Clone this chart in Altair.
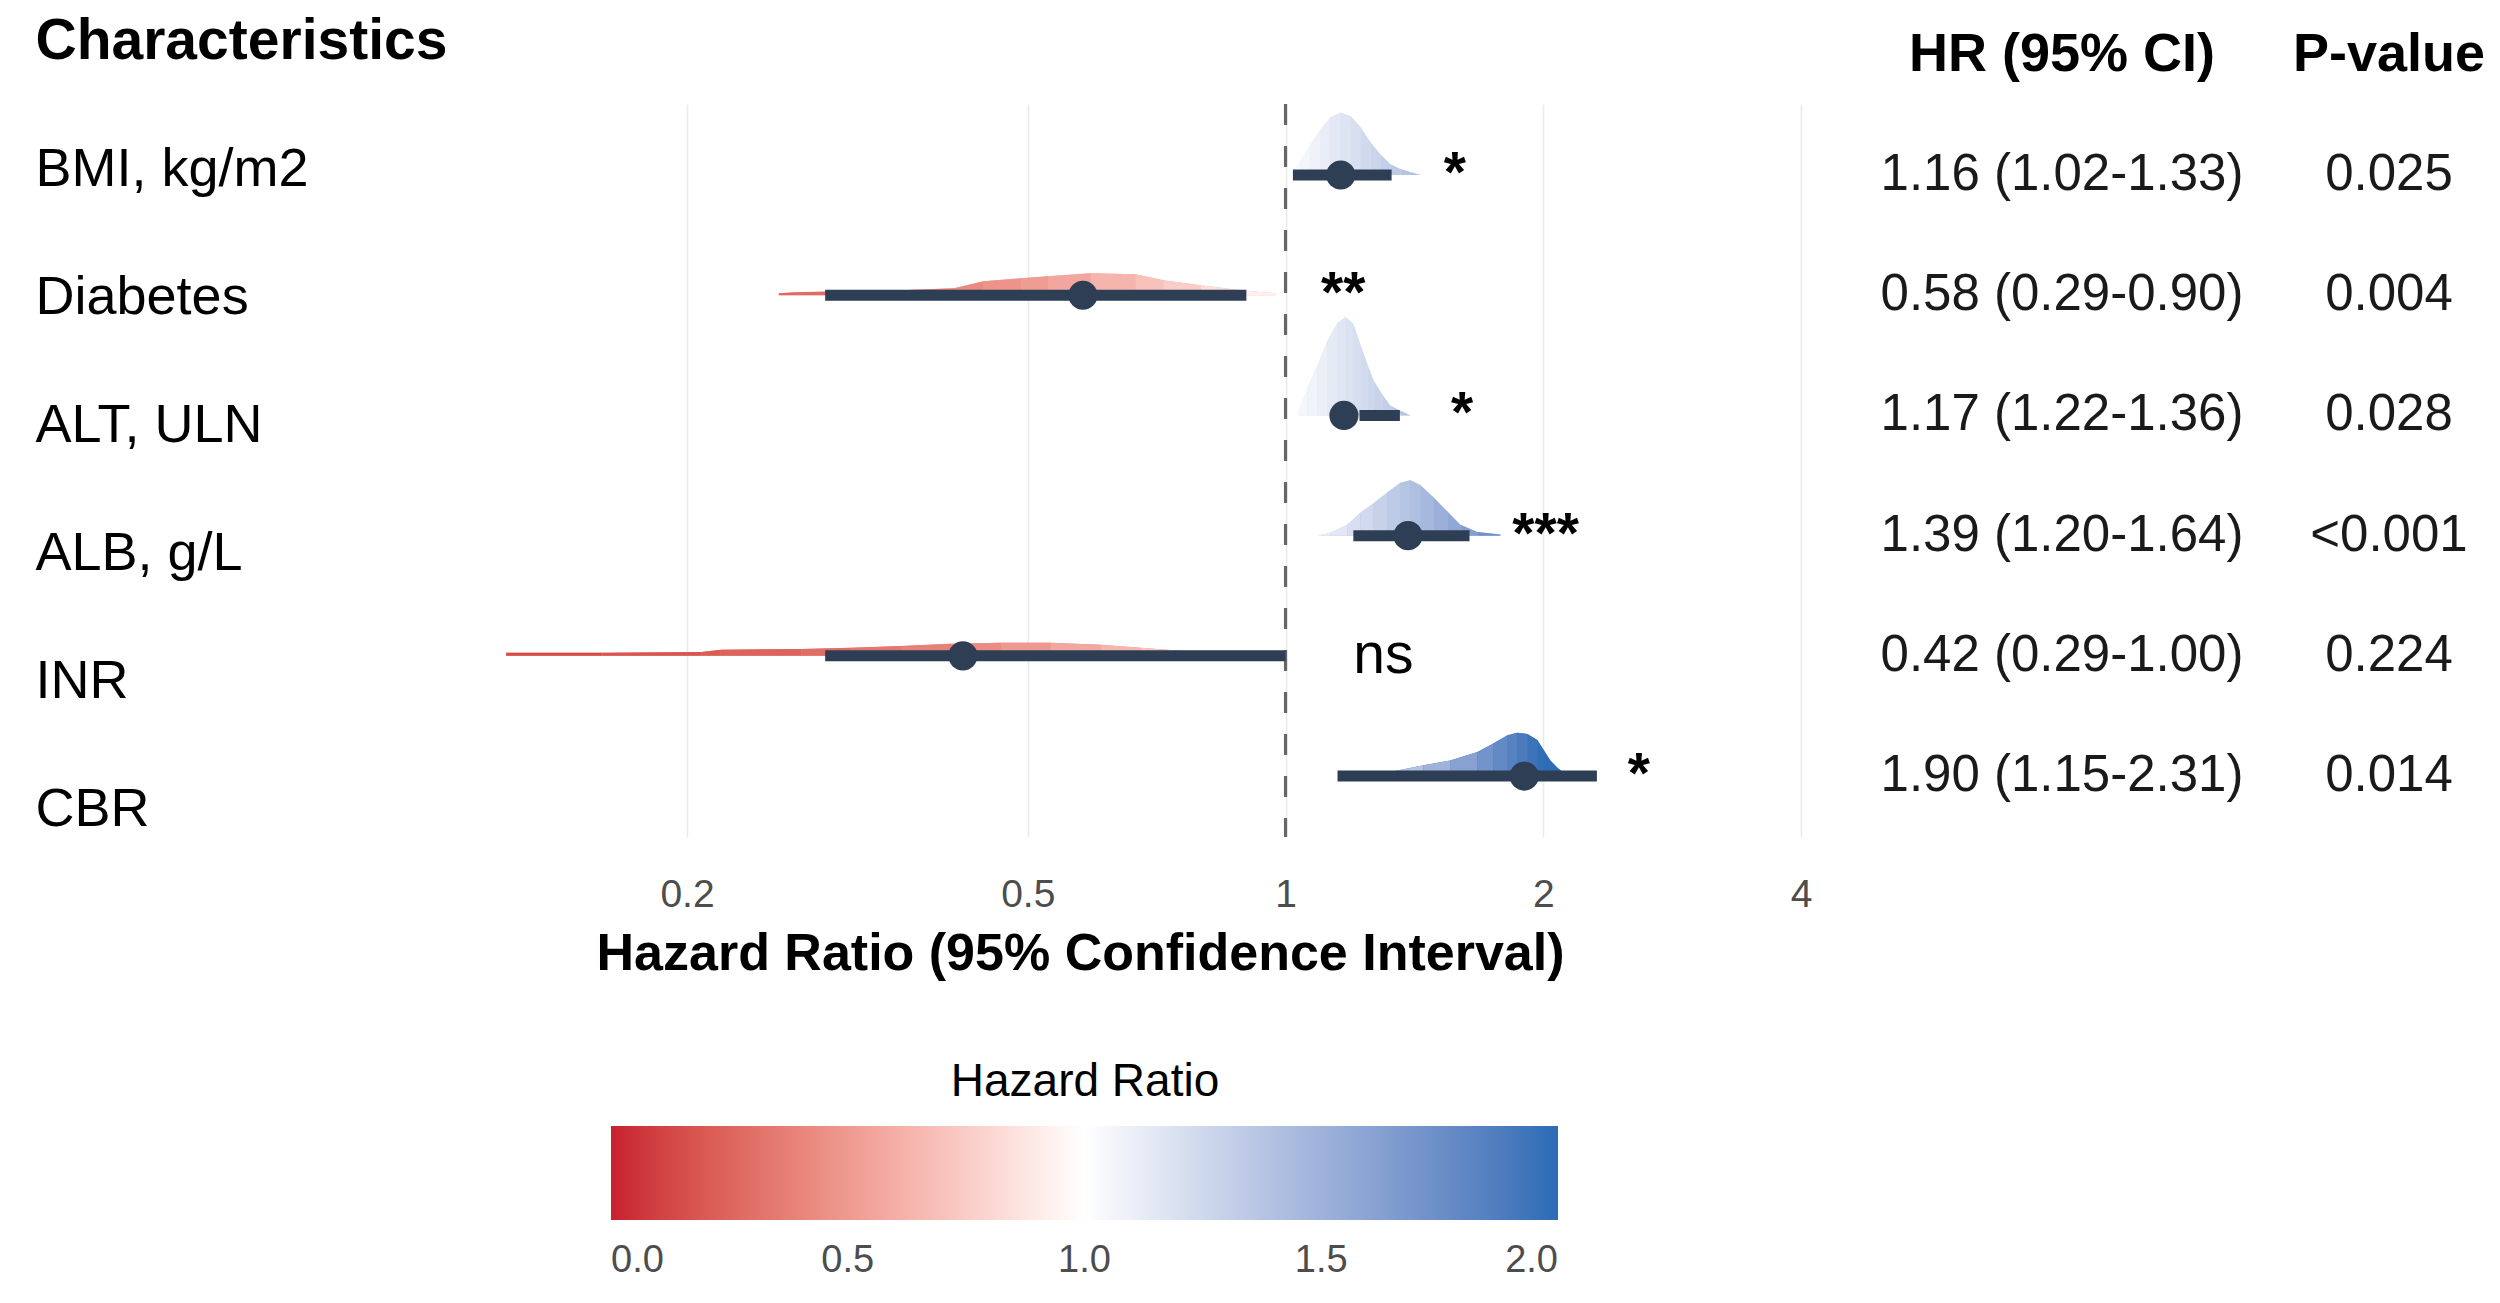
import altair as alt
import pandas as pd

FONT = "Liberation Sans"
DARK = "#2D3E55"

# ---------------- data ----------------
characteristics = ["BMI, kg/m2", "Diabetes", "ALT, ULN", "ALB, g/L", "INR", "CBR"]
hr = [1.16, 0.58, 1.17, 1.39, 0.42, 1.90]
ci_low = [1.02, 0.29, 1.22, 1.20, 0.29, 1.15]
ci_high = [1.33, 0.90, 1.36, 1.64, 1.00, 2.31]
hr_text = ["1.16 (1.02-1.33)", "0.58 (0.29-0.90)", "1.17 (1.22-1.36)",
           "1.39 (1.20-1.64)", "0.42 (0.29-1.00)", "1.90 (1.15-2.31)"]
p_text = ["0.025", "0.004", "0.028", "<0.001", "0.224", "0.014"]
signif = ["*", "**", "*", "***", "ns", "*"]
header_label = "Characteristics"
table_headers = ["HR (95% CI)", "P-value"]
ref_hr = [1.0]
x_ticks = [0.2, 0.5, 1, 2, 4]
legend_ticks = [0.0, 0.5, 1.0, 1.5, 2.0]

# density slabs: HR grid and slab height (in row units)
bmi_hr = [1.022, 1.041, 1.069, 1.099, 1.128, 1.159, 1.191, 1.223, 1.257, 1.291, 1.326, 1.362, 1.399, 1.437]
bmi_h = [0.04, 0.12, 0.25, 0.38, 0.48, 0.52, 0.49, 0.40, 0.27, 0.17, 0.09, 0.05, 0.025, 0.0]

dia_hr = [0.256, 0.268, 0.302, 0.356, 0.410, 0.444, 0.491, 0.528, 0.592, 0.668, 0.720, 0.796, 0.886, 0.973]
dia_h = [0.017, 0.025, 0.033, 0.042, 0.058, 0.116, 0.141, 0.158, 0.183, 0.175, 0.125, 0.083, 0.042, 0.017]

alt_hr = [1.036, 1.061, 1.090, 1.119, 1.150, 1.175, 1.200, 1.223, 1.247, 1.267, 1.298, 1.326, 1.362, 1.400]
alt_h = [0.04, 0.23, 0.42, 0.62, 0.77, 0.82, 0.76, 0.59, 0.42, 0.29, 0.17, 0.08, 0.04, 0.0]

alb_hr = [1.090, 1.128, 1.181, 1.223, 1.267, 1.315, 1.362, 1.399, 1.437, 1.488, 1.545, 1.600, 1.675, 1.782]
alb_h = [0.0, 0.025, 0.09, 0.19, 0.27, 0.36, 0.44, 0.46, 0.42, 0.32, 0.20, 0.09, 0.03, 0.01]

inr_hr = [0.123, 0.159, 0.208, 0.219, 0.272, 0.311, 0.356, 0.407, 0.465, 0.532, 0.608, 0.677, 0.754, 0.863, 0.987]
inr_h = [0.025, 0.025, 0.033, 0.05, 0.058, 0.067, 0.083, 0.10, 0.108, 0.108, 0.092, 0.067, 0.042, 0.025, 0.008]

cbr_hr = [1.25, 1.337, 1.449, 1.557, 1.675, 1.748, 1.816, 1.865, 1.916, 1.968, 2.0, 2.038, 2.077, 2.111, 2.15]
cbr_h = [0.0, 0.04, 0.09, 0.13, 0.20, 0.27, 0.34, 0.36, 0.35, 0.30, 0.22, 0.13, 0.07, 0.03, 0.0]

densities = [(bmi_hr, bmi_h), (dia_hr, dia_h), (alt_hr, alt_h),
             (alb_hr, alb_h), (inr_hr, inr_h), (cbr_hr, cbr_h)]

# ---------------- tables ----------------
rows = list(range(1, 7))
df = pd.DataFrame({"row": rows, "hr": hr, "lo": ci_low, "hi": ci_high, "sig": signif})
df["sig_x"] = df["hi"] + 0.2

seg = []
under = []
for r, est, (xs, hs) in zip(rows, hr, densities):
    for xv, hv in zip(xs, hs):
        under.append({"row": r, "hr": xv, "top": r - hv, "hr_row": est})
    for i in range(len(xs) - 1):
        mid = (xs[i] * xs[i + 1]) ** 0.5
        for j in (i, i + 1):
            seg.append({"seg": f"{r}-{i}", "row": r, "hr": xs[j],
                        "top": r - hs[j], "hr_mid": mid})
seg_df = pd.DataFrame(seg)
under_df = pd.DataFrame(under)

lab_df = pd.DataFrame({"lrow": rows, "label": characteristics, "col": "label"})
lab_head_df = pd.DataFrame({"lrow": [0], "label": [header_label], "col": ["label"]})

tab = []
for r, a, b in zip(rows, hr_text, p_text):
    tab.append({"row": r, "col": table_headers[0], "txt": a})
    tab.append({"row": r, "col": table_headers[1], "txt": b})
tab_df = pd.DataFrame(tab)
tab_head_df = pd.DataFrame({"row": [0, 0], "col": table_headers, "txt": table_headers})

# ---------------- scales ----------------
W, H = 2500, 733
xscale = alt.Scale(type="log", domain=[0.077, 4.3], range=[332, 1828], nice=False)
yscale = alt.Scale(domain=[0.409, 6.507], reverse=True, nice=False, zero=False)
cscale = alt.Scale(domain=[0, 1, 2], range=["#C8202F", "#FFFFFF", "#2B6CB5"],
                   interpolate="lab", clamp=True)

xaxis = alt.Axis(values=x_ticks, format="~g", grid=True, gridColor="#EBEBEB",
                 gridWidth=1.6, domain=False, ticks=False, labelFontSize=39,
                 labelColor="#4D4D4D", labelPadding=38, labelFlush=False,
                 title="Hazard Ratio (95% Confidence Interval)", titleFontSize=52,
                 titleFontWeight="bold", titleColor="black", titlePadding=14)

legend = alt.Legend(type="gradient", title="Hazard Ratio", orient="none",
                    legendX=611, legendY=956, direction="horizontal",
                    gradientLength=947, gradientThickness=94,
                    titleAnchor="middle", titleFontSize=46, titleFontWeight="normal",
                    titleColor="black", titlePadding=20, titleLimit=2000,
                    labelFontSize=38, labelColor="#4D4D4D", labelOffset=22,
                    values=legend_ticks, format=".1f", labelAlign="center",
                    labelOverlap=False, gradientStrokeWidth=0)

# ---------------- forest ----------------
under_layer = alt.Chart(under_df).mark_area(opacity=1).encode(
    x=alt.X("hr:Q", scale=xscale, axis=xaxis),
    y=alt.Y("top:Q", scale=yscale, axis=None),
    y2="row:Q",
    fill=alt.Fill("hr_row:Q", scale=cscale, legend=legend),
    detail="row:N",
)

dens_layer = alt.Chart(seg_df).mark_area(opacity=1).encode(
    x=alt.X("hr:Q", scale=xscale, axis=xaxis),
    y=alt.Y("top:Q", scale=yscale, axis=None),
    y2="row:Q",
    fill=alt.Fill("hr_mid:Q", scale=cscale, legend=legend),
    detail="seg:N",
)

ref_layer = alt.Chart(pd.DataFrame({"hr": ref_hr})).mark_rule(
    strokeDash=[21, 21], color="#666666", strokeWidth=3.2
).encode(x=alt.X("hr:Q", scale=xscale, axis=xaxis))

bar_layer = alt.Chart(df).mark_rule(strokeWidth=11, color=DARK, strokeCap="butt").encode(
    x=alt.X("lo:Q", scale=xscale, axis=xaxis),
    x2="hi:Q",
    y=alt.Y("row:Q", scale=yscale, axis=None),
)

pt_layer = alt.Chart(df).mark_circle(size=850, color=DARK, opacity=1).encode(
    x=alt.X("hr:Q", scale=xscale, axis=xaxis),
    y=alt.Y("row:Q", scale=yscale, axis=None),
)

sig_layer = alt.Chart(df).mark_text(
    align="left", baseline="middle", fontSize=57, color="black",
    fontWeight=alt.expr("datum.sig == 'ns' ? 'normal' : 'bold'"),
).encode(
    x=alt.X("sig_x:Q", scale=xscale, axis=xaxis),
    y=alt.Y("row:Q", scale=yscale, axis=None),
    text="sig:N",
)

forest = alt.layer(under_layer, dens_layer, ref_layer, bar_layer, pt_layer, sig_layer)

# ---------------- labels ----------------
lab_x = alt.X("col:N", scale=alt.Scale(type="point", domain=["label"], range=[35, 36], padding=0), axis=None)
lab_y = alt.Y("lrow:Q", scale=alt.Scale(domain=[0, 6], range=[-62, 706], nice=False, zero=False), axis=None)

lab_body = alt.Chart(lab_df).mark_text(align="left", baseline="middle", fontSize=54,
                                       color="black").encode(x=lab_x, y=lab_y, text="label:N")
lab_head = alt.Chart(lab_head_df).mark_text(align="left", baseline="middle", fontSize=57,
                                            fontWeight="bold", color="black").encode(
    x=lab_x, y=lab_y, text="label:N")
labels = alt.layer(lab_body, lab_head)

# ---------------- table ----------------
tab_x = alt.X("col:N", scale=alt.Scale(type="point", domain=table_headers, range=[2062, 2389], padding=0), axis=None)
tab_y = alt.Y("row:Q", scale=yscale, axis=None)
tab_body = alt.Chart(tab_df).mark_text(align="center", baseline="middle", fontSize=51,
                                       color="#1A1A1A").encode(x=tab_x, y=tab_y, text="txt:N")
tab_head = alt.Chart(tab_head_df).mark_text(align="center", baseline="middle", fontSize=54,
                                            fontWeight="bold", color="black").encode(
    x=tab_x, y=tab_y, text="txt:N")
table = alt.layer(tab_body, tab_head)

chart = alt.layer(labels, forest, table).resolve_scale(
    x="independent", y="independent"
).properties(
    width=W, height=H,
    padding={"left": 0, "top": 104, "right": 0, "bottom": 466},
    autosize=alt.AutoSizeParams(type="none"),
    background="white",
).configure(font=FONT).configure_view(stroke=None)

chart.save("out.html", embed_options={"renderer": "svg", "actions": False})
